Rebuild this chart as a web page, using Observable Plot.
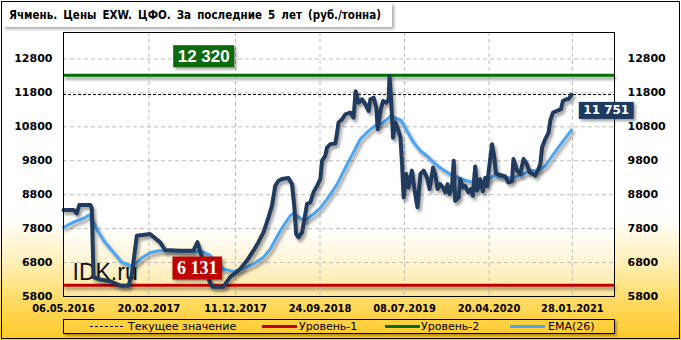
<!DOCTYPE html>
<html>
<head>
<meta charset="utf-8">
<script src="https://cdn.jsdelivr.net/npm/d3@7"></script>
<script src="https://cdn.jsdelivr.net/npm/@observablehq/plot@0.6"></script>
<style>
  html, body { margin: 0; padding: 0; }
  body { width: 681px; height: 340px; position: relative; overflow: hidden;
    background: linear-gradient(to bottom, #ffffff 0%, #ffffff 64%, #ffeeb0 78%, #ffd85a 90%, #ffc928 100%); }
  #frame { position: absolute; left: 1px; top: 1px; width: 677px; height: 336px; border: 1px solid #000; }
  #plotbg { position: absolute; left: 63px; top: 32px; width: 551px; height: 264px;
    background: linear-gradient(to bottom, #ffffff 0%, #ffffff 74%, #fff6d8 86%, #ffe69a 100%); }
  #chart { position: absolute; left: 0; top: 0; }
  #title { position: absolute; left: 3px; top: 3px; width: 389px; height: 24px; background: #fff;
    box-shadow: 2px 2px 3px rgba(0,0,0,0.35); font: bold 11.5px "DejaVu Sans Condensed", "DejaVu Sans", sans-serif;
    word-spacing: 2.5px;
    line-height: 24px; padding-left: 6px; box-sizing: border-box; white-space: pre; color: #000; }
  #legend { position: absolute; left: 63px; top: 319px; width: 552px; height: 15px; border: 1px solid #000;
    box-sizing: border-box; box-shadow: 2px 2px 2px rgba(0,0,0,0.3);
    font: 11px "DejaVu Sans", sans-serif; color: #000; }
  .li { position: absolute; top: 0; line-height: 13px; white-space: nowrap; }
  .sw { position: absolute; top: 5px; height: 3px; }
</style>
</head>
<body>
<div id="frame"></div>
<div id="plotbg"></div>
<div id="title"></div>
<div id="legend"></div>
<script>
// ---------- data ----------
const titleText = "Ячмень. Цены EXW. ЦФО. За последние 5 лет (руб./тонна)";

const priceDates = [
"2016-05-06","2016-06-09","2016-06-20","2016-06-29","2016-08-05","2016-08-10","2016-08-16","2016-09-08","2016-10-12","2016-11-15",
"2016-12-13","2016-12-24","2017-01-10","2017-02-24","2017-03-30","2017-04-16","2017-06-06","2017-07-21","2017-08-04","2017-08-19",
"2017-08-24","2017-09-13","2017-09-23","2017-10-31","2017-11-23","2017-12-27","2018-01-19","2018-02-10","2018-02-27","2018-03-16",
"2018-04-02","2018-04-14","2018-04-25","2018-05-06","2018-05-18","2018-06-09","2018-06-21","2018-06-29","2018-07-05","2018-07-13",
"2018-07-25","2018-08-05","2018-08-11","2018-08-22","2018-09-02","2018-09-14","2018-09-25","2018-10-01","2018-10-12","2018-10-18",
"2018-10-29","2018-11-15","2018-11-21","2018-11-26","2018-12-08","2018-12-19","2019-01-05","2019-01-16","2019-01-23","2019-02-02",
"2019-02-14","2019-02-25","2019-03-08","2019-03-14","2019-03-25","2019-04-03","2019-04-08","2019-04-17","2019-04-26","2019-05-07",
"2019-05-15","2019-05-18","2019-05-23","2019-05-30","2019-06-07","2019-06-14","2019-06-24","2019-06-29","2019-07-05","2019-07-14",
"2019-07-22","2019-08-02","2019-08-10","2019-08-17","2019-08-21","2019-08-31","2019-09-11","2019-09-22","2019-10-01","2019-10-13",
"2019-10-20","2019-10-28","2019-11-06","2019-11-16","2019-11-23","2019-12-01","2019-12-08","2019-12-16","2019-12-22","2019-12-27",
"2020-01-08","2020-01-13","2020-01-22","2020-01-30","2020-02-10","2020-02-19","2020-02-25","2020-03-04","2020-03-11","2020-03-21",
"2020-03-30","2020-04-07","2020-04-13","2020-04-21","2020-04-30","2020-05-08","2020-05-13","2020-05-28","2020-06-14","2020-06-25",
"2020-07-07","2020-07-12","2020-07-24","2020-08-04","2020-08-15","2020-08-25","2020-09-05","2020-09-16","2020-09-24","2020-10-05",
"2020-10-11","2020-10-17","2020-10-28","2020-11-08","2020-11-14","2020-11-23","2020-12-07","2020-12-20","2020-12-27","2021-01-07",
"2021-01-15","2021-01-25"];
const priceValues = [
8350,8350,8250,8500,8500,8400,6370,6300,6250,6120,
6120,6450,7590,7640,7400,7170,7150,7150,7400,6960,
6860,6270,6090,6090,6370,6610,6860,7150,7400,7690,
8130,8480,9060,9210,9260,9290,9110,8430,7640,7540,
7690,8230,8530,8570,8870,9060,9260,9800,9950,10190,
10290,10310,10630,10930,11020,11170,11220,11070,11850,11510,
11610,11470,11270,11610,11660,11370,10730,11270,11560,11510,
11610,12300,11660,10480,10930,10780,10490,9800,8720,9410,
9010,9510,9010,8620,8430,9410,9510,9310,8970,9600,
9410,8970,9110,9010,8870,9110,8820,9010,9800,8620,
8720,9260,9010,9060,8870,8970,8770,9630,8920,9260,
8900,9300,9050,9650,10290,9900,9430,9380,9340,9160,
9200,9850,9510,9410,9850,9720,9460,9410,9360,9560,
9700,10190,10440,10630,10980,11220,11270,11320,11560,11610,
11620,11751];

const emaDates = [
"2016-05-06","2016-06-09","2016-07-13","2016-08-02","2016-08-27","2016-09-19","2016-10-23","2016-11-20","2016-12-19","2017-01-05",
"2017-01-27","2017-02-24","2017-03-24","2017-05-14","2017-07-21","2017-08-19","2017-09-16","2017-10-31","2017-12-04","2018-01-02",
"2018-02-10","2018-03-16","2018-04-08","2018-05-12","2018-06-15","2018-06-26","2018-07-19","2018-08-05","2018-09-02","2018-09-25",
"2018-10-18","2018-11-21","2018-12-25","2019-01-21","2019-02-08","2019-03-08","2019-04-06","2019-04-23","2019-05-09","2019-05-23",
"2019-06-07","2019-06-26","2019-07-16","2019-08-08","2019-08-31","2019-09-22","2019-10-15","2019-11-12","2019-12-10","2020-01-13",
"2020-02-05","2020-02-28","2020-03-21","2020-04-07","2020-05-05","2020-06-08","2020-07-12","2020-08-15","2020-09-07","2020-10-05",
"2020-10-28","2020-11-25","2020-12-24","2021-01-25"];
const emaValues = [
7840,7990,8100,8210,7790,7450,7100,6810,6710,6760,
6940,7090,7150,7150,7120,7130,7010,6610,6540,6610,
6760,6960,7200,7740,8180,8250,8110,8040,8230,8410,
8670,9110,9700,10140,10440,10680,10880,10900,11020,11120,
11060,11000,10680,10340,10090,9950,9750,9560,9410,9290,
9210,9160,9180,9160,9360,9310,9300,9410,9510,9510,
9650,10000,10340,10710];

const yTicks = [5800, 6800, 7800, 8800, 9800, 10800, 11800, 12800];
const xTickLabels = ["06.05.2016","20.02.2017","11.12.2017","24.09.2018","08.07.2019","20.04.2020","28.01.2021"];
const xDomainLabels = ["06.05.2016", "20.06.2021"];
const yDomain = [5800, 13580];

const level1 = 6131;      // Уровень-1
const level2 = 12320;     // Уровень-2
const currentValue = 11751;

// annotation labels
const labelTexts  = ["12 320", "6 131", "11 751"];
const labelDates  = ["25.08.2017", "03.08.2017", "23.05.2021"];
const labelValues = [level2, level1, currentValue];
const labelDy     = [-19, -17, 16];
const labelFills  = ["#0b6a0b", "#bf0000", "#1e3a5f"];
const labelFonts  = ["Liberation Sans", "Liberation Serif", "DejaVu Sans"];
const labelSizes  = [17, 18, 12];

const legendNames  = ["Текущее значение", "Уровень-1", "Уровень-2", "EMA(26)"];
const legendColors = ["#000000", "#c00000", "#007000", "#4aa6f5"];

// ---------- build ----------
const parseISO = d3.utcParse("%Y-%m-%d");
const parseRu = d3.utcParse("%d.%m.%Y");
const fmtRu = d3.utcFormat("%d.%m.%Y");

const price = priceDates.map((d, i) => ({date: parseISO(d), value: priceValues[i]}));
const ema = emaDates.map((d, i) => ({date: parseISO(d), value: emaValues[i]}));
const xTicks = xTickLabels.map(parseRu);
const labels = labelTexts.map((t, i) => ({text: t, date: parseRu(labelDates[i]), value: labelValues[i]}));

const shadow = "drop-shadow(2px 3px 1.5px rgba(0,0,0,0.38))";
const axisFont = "DejaVu Sans";

const labelMarks = labels.map((l, i) => Plot.text([l], {
  x: "date", y: "value", text: "text", dy: labelDy[i],
  fill: "#fff", fontFamily: labelFonts[i], fontWeight: "bold", fontSize: labelSizes[i],
  textAnchor: "middle", lineAnchor: "middle"
}));

const chart = Plot.plot({
  width: 681, height: 340,
  marginLeft: 63, marginRight: 67, marginTop: 32, marginBottom: 44,
  style: {background: "transparent", overflow: "visible"},
  x: {type: "utc", domain: xDomainLabels.map(parseRu)},
  y: {domain: yDomain},
  marks: [
    Plot.gridY(yTicks, {stroke: "#bdbdbd", strokeOpacity: 1, strokeDasharray: "4,3"}),
    Plot.gridX(xTicks, {stroke: "#bdbdbd", strokeOpacity: 1, strokeDasharray: "4,3"}),
    Plot.axisY(yTicks, {anchor: "left", tickSize: 0, tickPadding: 11, tickFormat: d3.format("d"),
      fontFamily: axisFont, fontWeight: "bold", fontSize: 11, fill: "#000", label: null}),
    Plot.axisY(yTicks, {anchor: "right", tickSize: 0, tickPadding: 13, tickFormat: d3.format("d"),
      fontFamily: axisFont, fontWeight: "bold", fontSize: 11, fill: "#000", label: null}),
    Plot.axisX(xTicks, {tickSize: 0, tickPadding: 8, tickFormat: fmtRu,
      fontFamily: "DejaVu Sans Condensed", fontWeight: "bold", fontSize: 11, fill: "#000", label: null}),
    Plot.text(["IDK.ru"], {frameAnchor: "bottom-left", dx: 9, dy: -17, lineAnchor: "bottom", textAnchor: "start",
      fontFamily: "Liberation Sans", fontSize: 23, fill: "#111"}),
    Plot.ruleY([level1], {stroke: "#c00000", strokeWidth: 3, imageFilter: shadow}),
    Plot.ruleY([level2], {stroke: "#007000", strokeWidth: 3, imageFilter: shadow}),
    Plot.ruleY([currentValue], {stroke: "#000", strokeWidth: 1, strokeDasharray: "3,2"}),
    Plot.line(ema, {x: "date", y: "value", stroke: "#4aa6f5", strokeWidth: 3, strokeLinejoin: "round", imageFilter: shadow}),
    Plot.line(price, {x: "date", y: "value", stroke: "#213b5e", strokeWidth: 4, strokeLinejoin: "round", imageFilter: shadow}),
    Plot.frame({stroke: "#000", strokeWidth: 1}),
    ...labelMarks
  ]
});
chart.id = "chart";
document.body.insertBefore(chart, document.getElementById("title"));

// boxes behind annotation labels
const allTexts = Array.from(chart.querySelectorAll("text"));
labels.forEach((l, i) => {
  const t = allTexts.find(el => el.textContent === l.text);
  if (!t) return;
  const b = t.getBBox();
  const r = document.createElementNS("http://www.w3.org/2000/svg", "rect");
  const px = 4.5, py = 1.5;
  r.setAttribute("x", b.x - px); r.setAttribute("y", b.y - py);
  r.setAttribute("width", b.width + 2 * px); r.setAttribute("height", b.height + 2 * py);
  r.setAttribute("fill", labelFills[i]);
  const tr = t.getAttribute("transform");
  if (tr) r.setAttribute("transform", tr);
  r.setAttribute("style", "filter: drop-shadow(2px 2px 1.5px rgba(0,0,0,0.4))");
  t.parentNode.insertBefore(r, t);
});

// title
document.getElementById("title").textContent = titleText;

// legend
const legend = document.getElementById("legend");
const swX = [26, 198, 321, 446];
const txX = [64, 235, 357, 484];
legendNames.forEach((name, i) => {
  const sw = document.createElement("div");
  sw.className = "sw";
  sw.style.left = swX[i] + "px";
  sw.style.width = (i === 0 ? 33 : 35) + "px";
  if (i === 0) { sw.style.height = "0"; sw.style.top = "6px"; sw.style.borderTop = "1px dashed #000"; }
  else sw.style.background = legendColors[i];
  legend.appendChild(sw);
  const tx = document.createElement("div");
  tx.className = "li";
  tx.style.left = txX[i] + "px";
  tx.textContent = name;
  legend.appendChild(tx);
});
</script>
</body>
</html>
